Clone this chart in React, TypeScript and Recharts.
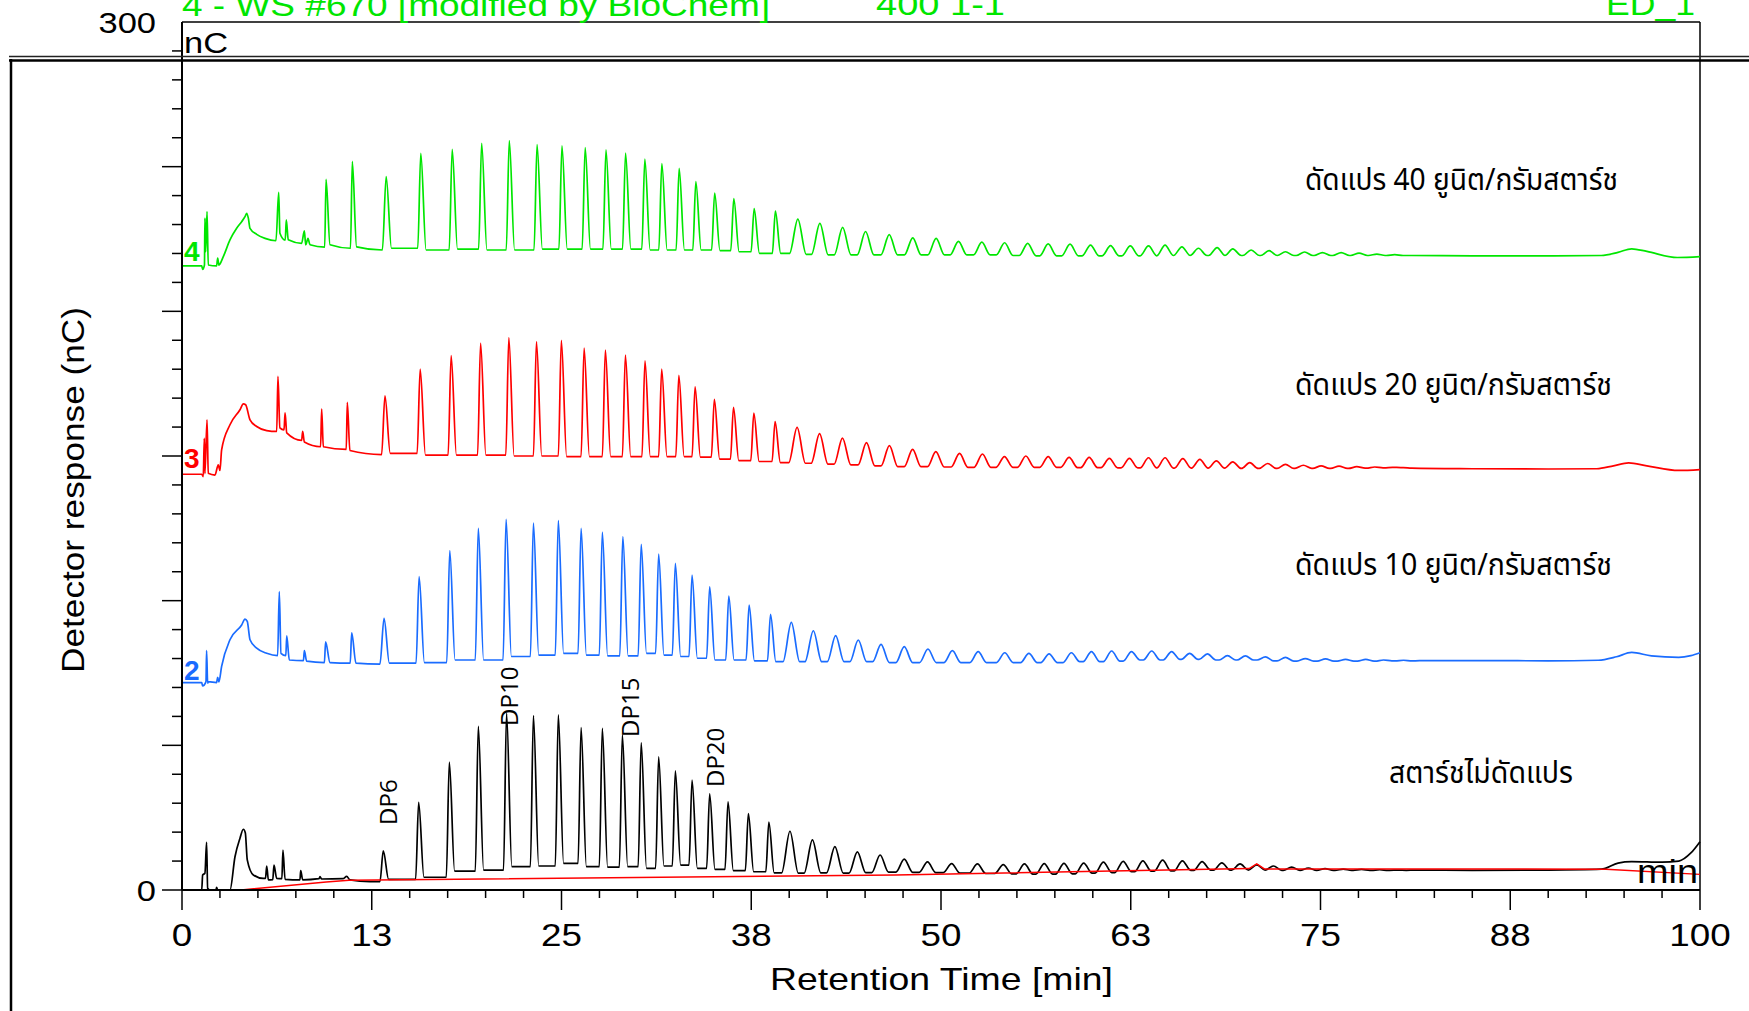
import React from "react";
import { LineChart, Line, XAxis, YAxis, ReferenceLine, ReferenceDot } from "recharts";

const W = 1749;
const H = 1011;
const SANS = "'Liberation Sans', Arial, sans-serif";
const THAI = "Tahoma, 'Leelawadee UI', 'Noto Sans Thai', 'Noto Sans', sans-serif";

const GREEN = "#00e600";
const RED = "#ff0000";
const BLUE = "#1a6cff";
const BLACK = "#000000";

// axis ticks
const xTicks = Array.from({ length: 41 }, (_, i) => i * 2.5);
const xLabels = ["0", "13", "25", "38", "50", "63", "75", "88", "100"];
const yTicks = Array.from({ length: 31 }, (_, i) => i * 10);
const yLabelValues = [0, 300];

// trace 1 (black, unmodified starch)
const blackEarly: [number, number][] = [
  [0, 0], [1.3, 0], [1.36, 5.2], [1.51, 5.8], [1.62, 16.5], [1.69, 0.6], [1.84, 0], [2.24, 0], [2.28, 0.9],
  [2.35, 0], [3.16, 0], [3.49, 11.5], [3.82, 17.9], [4.04, 21.0], [4.17, 19.8], [4.3, 10.4], [4.7, 5.2],
  [5.36, 4.0], [5.5, 4.0], [5.58, 8.3], [5.69, 3.5], [5.98, 3.6], [6.06, 8.6], [6.24, 4.0], [6.58, 3.9],
  [6.65, 13.8], [6.79, 3.7], [7.77, 3.5], [7.82, 6.7], [7.95, 3.5], [9.02, 3.9], [9.09, 4.6], [9.2, 3.8],
  [10.6, 3.9], [10.85, 4.7], [11.06, 3.5], [12.38, 2.9], [13.04, 2.9],
];
const blackPeakT = [
  13.26, 15.59, 17.61, 19.52, 21.38, 23.15, 24.79, 26.29, 27.69, 29.01, 30.25, 31.4, 32.5, 33.6, 34.76,
  35.97, 37.31, 38.66, 40.05, 41.53, 43.01, 44.49, 45.99, 47.58, 49.11, 50.7, 52.4, 54.1, 55.5, 56.8,
  58.1, 59.4, 60.7, 62.0, 63.3, 64.6, 65.9, 67.2, 68.5, 69.7, 70.8, 71.9, 73.1, 74.2, 75.3, 76.5, 77.7,
  78.9, 80.1,
];
const blackPeakTop = [
  13.5, 30.3, 44.2, 56.6, 61.1, 60.3, 60.5, 56.1, 55.9, 53.6, 50.9, 46.0, 41.2, 38.0, 33.2, 30.5, 26.4,
  23.5, 20.3, 17.3, 15.0, 13.2, 12.1, 10.7, 9.7, 9.1, 9.0, 8.8, 9.0, 9.1, 9.2, 9.3, 9.6, 9.9, 10.1, 10.3,
  10.1, 9.8, 9.4, 9.0, 8.7, 8.3, 7.9, 7.6, 7.4, 7.2, 7.1, 7.0, 6.9,
];
const blackValley = [
  3.7, 4.4, 6.5, 6.9, 8.1, 8.3, 9.2, 8.1, 7.9, 8.1, 7.5, 8.3, 8.6, 7.5, 7.1, 6.7, 6.3, 5.9, 5.8, 5.9, 5.8,
  6.0, 6.2, 6.1, 6.0, 5.8, 5.7, 5.6, 5.5, 5.5, 5.6, 5.8, 6.0, 6.3, 6.5, 6.6, 6.8, 6.9, 6.9, 6.9, 6.9, 6.8,
  6.8, 6.8, 6.8, 6.8, 6.8, 6.8, 6.8,
];
const blackTail: [number, number][] = [
  [81.2, 6.9], [85, 6.8], [90, 6.9], [93.5, 7.2], [94.6, 9.3], [95.5, 9.8], [97.5, 9.6], [98.6, 10.0],
  [99.4, 12.8], [100, 16.7],
];

// integration baseline drawn under trace 1
const integrationLine: [number, number][] = [
  [3.9, 0], [9.5, 2.8], [11.0, 3.4], [47, 5.2], [70.3, 7.4], [70.8, 9.0], [71.3, 7.3], [93.8, 7.2], [100, 5.4],
];

// trace 2 (blue, 10 units)
const blueEarly: [number, number][] = [
  [0, 71.7], [1.3, 71.7], [1.36, 70.5], [1.58, 72.0], [1.62, 82.7], [1.69, 71.5], [1.73, 72.0], [2.28, 71.7],
  [2.35, 73.5], [2.43, 71.9], [2.61, 77.3], [3.16, 86.5], [3.93, 91.6], [4.15, 93.6], [4.3, 92.8],
  [4.48, 86.5], [4.92, 83.6], [5.58, 81.8], [6.3, 81.0], [6.41, 103.1], [6.52, 81.8], [6.84, 81.0],
  [6.9, 87.8], [7.07, 79.5], [8.0, 79.3], [8.06, 82.7], [8.21, 79.1], [9.38, 78.6], [9.46, 85.8],
  [9.75, 78.6], [11.08, 78.4], [11.18, 88.9], [11.46, 78.4], [13.04, 78.1],
];
const bluePeakT = [
  13.31, 15.62, 17.64, 19.52, 21.35, 23.15, 24.79, 26.29, 27.69, 29.04, 30.25, 31.4, 32.5, 33.6, 34.76,
  36.02, 37.36, 38.77, 40.14, 41.59, 43.06, 44.55, 46.05, 47.58, 49.14, 50.75, 52.45, 54.2, 55.79, 57.12,
  58.59, 59.91, 61.24, 62.55, 63.88, 65.19, 66.38, 67.55, 68.87, 70.05, 71.37, 72.69, 74.0, 75.33, 76.65,
  77.98, 79.15, 80.47,
];
const bluePeakTop = [
  93.9, 108.3, 117.3, 125.0, 128.1, 126.8, 127.7, 125.0, 123.7, 122.1, 119.5, 116.1, 112.9, 108.8, 104.8,
  101.6, 98.5, 95.3, 92.5, 89.6, 87.9, 86.4, 84.9, 84.1, 83.3, 82.7, 82.4, 82.0, 81.8, 81.6, 82.0, 82.4,
  82.6, 82.4, 82.6, 82.4, 81.8, 81.6, 81.0, 80.9, 80.6, 80.4, 80.0, 79.9, 79.7, 79.7, 79.5, 79.4,
];
const blueValley = [
  78.4, 78.6, 79.5, 79.5, 80.7, 81.2, 81.8, 81.2, 80.9, 80.9, 81.8, 81.2, 80.7, 80.1, 79.5, 79.5, 79.2,
  78.9, 78.9, 78.9, 78.9, 78.9, 78.6, 78.6, 78.6, 78.6, 78.6, 78.6, 78.6, 78.6, 78.9, 78.9, 79.1, 79.5,
  79.5, 79.7, 79.7, 79.5, 79.5, 79.5, 79.2, 79.1, 79.1, 79.1, 79.1, 79.1, 79.2, 79.2,
];
const blueTail: [number, number][] = [
  [81.8, 79.3], [86, 79.3], [90, 79.2], [93.3, 79.4], [94.5, 80.6], [95.5, 82.1], [96.8, 80.9],
  [98.6, 80.4], [99.4, 81.0], [100, 82.0],
];

// trace 3 (red, 20 units)
const redEarly: [number, number][] = [
  [0, 143.7], [1.3, 143.7], [1.4, 142.9], [1.47, 156.1], [1.51, 143.9], [1.65, 162.5], [1.73, 144.0],
  [2.17, 143.4], [2.39, 146.9], [2.5, 145.0], [2.61, 152.1], [3.16, 160.8], [3.82, 166.0], [4.04, 168.0],
  [4.19, 167.7], [4.48, 162.5], [4.92, 160.2], [5.58, 158.8], [6.24, 158.5], [6.32, 177.5], [6.45, 159.7],
  [6.72, 159.0], [6.79, 164.9], [6.9, 158.0], [7.88, 155.4], [7.95, 158.5], [8.06, 154.8], [9.13, 153.2],
  [9.2, 166.2], [9.31, 153.2], [10.82, 152.3], [10.89, 168.5], [11.06, 151.9], [13.15, 150.5],
];
const redPeakT = [
  13.37, 15.69, 17.73, 19.67, 21.53, 23.35, 24.99, 26.49, 27.89, 29.21, 30.5, 31.6, 32.73, 33.8, 35.07,
  36.33, 37.67, 39.07, 40.52, 42.0, 43.51, 45.09, 46.6, 48.13, 49.66, 51.22, 52.73, 54.18, 55.59, 57.06,
  58.44, 59.76, 61.09, 62.41, 63.67, 64.76, 65.93, 67.05, 68.14, 69.22, 70.34, 71.52, 72.69, 73.87, 75.04,
  76.22, 77.39, 78.57, 79.74,
];
const redPeakTop = [
  170.8, 180.0, 184.7, 189.0, 190.9, 189.5, 190.0, 187.3, 186.6, 184.9, 182.9, 180.0, 177.9, 173.9, 169.6,
  166.8, 164.8, 161.9, 159.9, 157.7, 156.2, 154.6, 153.6, 152.3, 151.5, 150.9, 150.7, 149.8, 150.0, 149.8,
  149.5, 149.5, 149.2, 149.2, 149.4, 149.4, 149.1, 148.8, 148.3, 148.0, 147.7, 147.4, 147.1, 146.8, 146.6,
  146.5, 146.3, 146.2, 146.1,
];
const redValley = [
  150.9, 150.3, 150.3, 150.3, 150.0, 150.0, 149.8, 149.8, 149.8, 149.8, 149.8, 149.8, 149.8, 149.6, 148.9,
  148.4, 148.1, 147.7, 147.5, 147.2, 146.9, 146.6, 146.3, 146.3, 146.2, 146.1, 146.1, 146.1, 146.1, 146.1,
  146.0, 146.0, 145.9, 145.9, 145.9, 145.8, 145.8, 145.8, 145.8, 145.7, 145.7, 145.7, 145.7, 145.7, 145.7,
  145.7, 145.8, 145.9, 146.0,
];
const redTail: [number, number][] = [
  [81, 145.8], [85, 145.6], [90, 145.5], [93.2, 145.6], [94.3, 146.6], [95.3, 147.6], [96.5, 146.6],
  [98.6, 145.0], [100, 145.3],
];

// trace 4 (green, 40 units)
const greenEarly: [number, number][] = [
  [0, 215.7], [1.3, 215.7], [1.36, 214.5], [1.48, 216.0], [1.51, 232.2], [1.56, 220.6], [1.65, 234.5],
  [1.73, 216.0], [2.28, 215.7], [2.35, 218.4], [2.43, 216.0], [2.72, 218.9], [3.16, 224.7], [3.6, 228.7],
  [3.93, 231.0], [4.15, 232.7], [4.26, 233.9], [4.37, 232.2], [4.48, 228.7], [4.92, 226.6], [5.47, 225.2],
  [6.19, 224.4], [6.37, 241.1], [6.45, 227.0], [6.8, 224.6], [6.87, 231.6], [7.0, 224.7], [7.88, 223.5],
  [8.06, 227.8], [8.15, 223.0], [8.3, 225.2], [8.43, 223.0], [9.4, 222.2], [9.49, 245.6], [9.75, 223.0],
  [11.1, 221.8], [11.22, 251.8], [11.5, 222.3], [13.2, 221.2],
];
const greenPeakT = [
  13.45, 15.73, 17.8, 19.74, 21.56, 23.39, 25.03, 26.56, 27.93, 29.22, 30.49, 31.61, 32.75, 33.85, 35.09,
  36.35, 37.69, 39.09, 40.57, 42.02, 43.52, 45.03, 46.59, 48.14, 49.68, 51.15, 52.69, 54.19, 55.71, 57.06,
  58.5, 59.85, 61.17, 62.47, 63.67, 64.76, 65.87, 66.96, 68.19, 69.22, 70.43, 71.61, 72.69, 73.95, 75.13,
  76.36, 77.54, 78.71, 79.89,
];
const greenPeakTop = [
  246.6, 254.6, 256.0, 258.1, 259.0, 257.6, 257.2, 256.6, 255.8, 254.7, 252.6, 251.1, 249.4, 244.8, 240.9,
  239.0, 235.5, 234.6, 231.9, 230.4, 229.0, 227.6, 226.5, 225.4, 225.2, 224.2, 223.9, 223.7, 223.5, 223.3,
  223.2, 222.9, 222.7, 222.6, 222.6, 222.9, 222.3, 221.8, 222.0, 221.6, 221.2, 221.0, 220.6, 220.5, 220.3,
  220.3, 220.1, 219.8, 219.6,
];
const greenValley = [
  221.8, 221.2, 221.5, 221.2, 221.2, 221.5, 221.5, 221.5, 221.5, 221.5, 221.2, 221.2, 221.2, 221.2, 221.0,
  220.6, 220.0, 220.0, 219.7, 219.5, 219.5, 219.5, 219.5, 219.5, 219.5, 219.5, 219.5, 219.3, 219.2, 219.2,
  219.2, 219.2, 219.2, 219.2, 219.2, 219.3, 219.3, 219.3, 219.3, 219.3, 219.3, 219.3, 219.3, 219.3, 219.3,
  219.3, 219.3, 219.3, 219.3,
];
const greenTail: [number, number][] = [
  [81, 219.3], [85, 219.2], [90, 219.2], [93.5, 219.3], [94.6, 220.4], [95.5, 221.6], [96.5, 220.7],
  [98.5, 218.6], [100, 218.9],
];

// annotations
const dpNames = ["DP6", "DP10", "DP15", "DP20"];
const dpAnchorT = [13.57, 21.48, 29.51, 35.08];
const dpAnchorV = [22.5, 56.7, 52.9, 35.6];

const traceNames = ["4", "3", "2"];
const traceNameV = [221, 149.3, 76];
const traceNameColors = [GREEN, RED, BLUE];

// peak shape (minutes): narrow early peaks, broader late ones
const SHARP_FOOT = 0.35;
const SHARP_RISE = 0.2;
const BROAD_FOOT = 0.55;
const BROAD_RISE = 0.55;
const BROAD_FROM = 40;

type Pt = { t: number; v: number };

function buildTrace(
  early: [number, number][],
  peakT: number[],
  peakTop: number[],
  valley: number[],
  tail: [number, number][]
): Pt[] {
  const pts: Pt[] = early.map(([t, v]) => ({ t, v }));
  peakT.forEach((t, i) => {
    const next = i + 1 < peakT.length ? peakT[i + 1] : tail[0][0];
    const foot = t >= BROAD_FROM ? BROAD_FOOT : SHARP_FOOT;
    const rise = next >= BROAD_FROM ? BROAD_RISE : SHARP_RISE;
    pts.push({ t, v: peakTop[i] });
    if (foot + rise < next - t) {
      pts.push({ t: t + foot, v: valley[i] });
      pts.push({ t: next - rise, v: valley[i] });
    } else {
      pts.push({ t: t + ((next - t) * foot) / (foot + rise), v: valley[i] });
    }
  });
  tail.forEach(([t, v]) => pts.push({ t, v }));
  return pts;
}

const blackData = buildTrace(blackEarly, blackPeakT, blackPeakTop, blackValley, blackTail);
const blueData = buildTrace(blueEarly, bluePeakT, bluePeakTop, blueValley, blueTail);
const redData = buildTrace(redEarly, redPeakT, redPeakTop, redValley, redTail);
const greenData = buildTrace(greenEarly, greenPeakT, greenPeakTop, greenValley, greenTail);
const integrationData = integrationLine.map(([t, v]) => ({ t, v }));

function XTick(props: any) {
  const { x, y, payload } = props;
  const v = payload.value;
  const major = v % 12.5 === 0;
  return (
    <g>
      <line x1={x} x2={x} y1={y} y2={y + (major ? 20 : 8)} stroke="#000" strokeWidth={1.5} />
      {major && (
        <text
          transform={`translate(${x},${y + 56}) scale(1.15,1)`}
          textAnchor="middle"
          fontSize={32}
          fontFamily={SANS}
          fill="#000"
        >
          {xLabels[Math.round(v / 12.5)]}
        </text>
      )}
    </g>
  );
}

function YTick(props: any) {
  const { x, y, payload } = props;
  const v = payload.value;
  const major = v % 50 === 0;
  const showLabel = yLabelValues.includes(v);
  return (
    <g>
      {v < 300 && (
        <line x1={x - (major ? 20 : 10)} x2={x} y1={y} y2={y} stroke="#000" strokeWidth={1.5} />
      )}
      {showLabel && (
        <text
          transform={`translate(${x - 26},${y + 11}) scale(1.15,1)`}
          textAnchor="end"
          fontSize={30}
          fontFamily={SANS}
          fill="#000"
        >
          {String(v)}
        </text>
      )}
    </g>
  );
}

const lineProps = {
  dataKey: "v",
  type: "monotone" as const,
  dot: false,
  activeDot: false,
  strokeWidth: 1.7,
  isAnimationActive: false,
};

export default function App() {
  return (
    <div style={{ position: "absolute", left: 0, top: 0, width: W, height: H, background: "#fff", overflow: "hidden" }}>
      <LineChart width={W} height={H} margin={{ top: 22, right: 49, bottom: 61, left: 122 }}>
        <XAxis
          type="number"
          dataKey="t"
          domain={[0, 100]}
          ticks={xTicks}
          interval={0}
          tick={XTick}
          tickSize={0}
          tickMargin={0}
          height={60}
          axisLine={{ stroke: "#000", strokeWidth: 2 }}
        />
        <YAxis
          type="number"
          domain={[0, 300]}
          ticks={yTicks}
          interval={0}
          tick={YTick}
          tickSize={0}
          tickMargin={0}
          width={60}
          axisLine={{ stroke: "#000", strokeWidth: 2 }}
        />
        <ReferenceLine y={300} stroke="#000" strokeWidth={1.5} />
        <ReferenceLine x={100} stroke="#000" strokeWidth={1.5} />
        <Line {...lineProps} data={greenData} stroke={GREEN} />
        <Line {...lineProps} data={redData} stroke={RED} />
        <Line {...lineProps} data={blueData} stroke={BLUE} />
        <Line {...lineProps} data={blackData} stroke={BLACK} />
        <Line {...lineProps} data={integrationData} type="linear" stroke={RED} strokeWidth={1.5} />
        {dpNames.map((name, i) => (
          <ReferenceDot
            key={name}
            x={dpAnchorT[i]}
            y={dpAnchorV[i]}
            r={0}
            shape={(p: any) => (
              <text
                transform={`translate(${p.cx},${p.cy}) rotate(-90)`}
                fontSize={24}
                fontFamily="'Open Sans', 'Noto Sans', sans-serif"
                dominantBaseline="central"
                fill="#000"
              >
                {name}
              </text>
            )}
          />
        ))}
        {traceNames.map((name, i) => (
          <ReferenceDot
            key={name}
            x={0}
            y={traceNameV[i]}
            r={0}
            shape={(p: any) => (
              <text
                x={p.cx + 2}
                y={p.cy + 10}
                fontSize={28}
                fontWeight="bold"
                fontFamily={SANS}
                fill={traceNameColors[i]}
              >
                {name}
              </text>
            )}
          />
        ))}
      </LineChart>
      <svg width={W} height={H} style={{ position: "absolute", left: 0, top: 0, pointerEvents: "none" }}>
        <g fontFamily={SANS} fill={GREEN} fontSize={32}>
          <text x={182} y={16} textLength={588} lengthAdjust="spacingAndGlyphs">
            4 - WS #670 [modified by BioChem]
          </text>
          <text x={876} y={15} textLength={129} lengthAdjust="spacingAndGlyphs">
            400 1-1
          </text>
          <text x={1606} y={15} textLength={89} lengthAdjust="spacingAndGlyphs">
            ED_1
          </text>
        </g>
        <line x1={9} x2={W} y1={56.5} y2={56.5} stroke="#222" strokeWidth={1.5} />
        <line x1={9} x2={W} y1={60.5} y2={60.5} stroke="#000" strokeWidth={2.5} />
        <line x1={11} x2={11} y1={59} y2={H} stroke="#000" strokeWidth={2.5} />
        <text x={184} y={53} fontSize={30} fontFamily={SANS} textLength={44} lengthAdjust="spacingAndGlyphs">
          nC
        </text>
        <text x={1637} y={883} fontSize={33} fontFamily={SANS} textLength={61} lengthAdjust="spacingAndGlyphs">
          min
        </text>
        <text x={770} y={990} fontSize={32} fontFamily={SANS} textLength={343} lengthAdjust="spacingAndGlyphs">
          Retention Time [min]
        </text>
        <text
          transform="translate(84,673) rotate(-90)"
          fontSize={31}
          fontFamily={SANS}
          textLength={366}
          lengthAdjust="spacingAndGlyphs"
        >
          Detector response (nC)
        </text>
        <g fontFamily={THAI} fontSize={31} fill="#000">
          <text x={1305} y={190} textLength={313} lengthAdjust="spacingAndGlyphs">
            ดัดแปร 40 ยูนิต/กรัมสตาร์ช
          </text>
          <text x={1295} y={395} textLength={317} lengthAdjust="spacingAndGlyphs">
            ดัดแปร 20 ยูนิต/กรัมสตาร์ช
          </text>
          <text x={1295} y={575} textLength={317} lengthAdjust="spacingAndGlyphs">
            ดัดแปร 10 ยูนิต/กรัมสตาร์ช
          </text>
          <text x={1389} y={783} textLength={184} lengthAdjust="spacingAndGlyphs">
            สตาร์ชไม่ดัดแปร
          </text>
        </g>
      </svg>
    </div>
  );
}
